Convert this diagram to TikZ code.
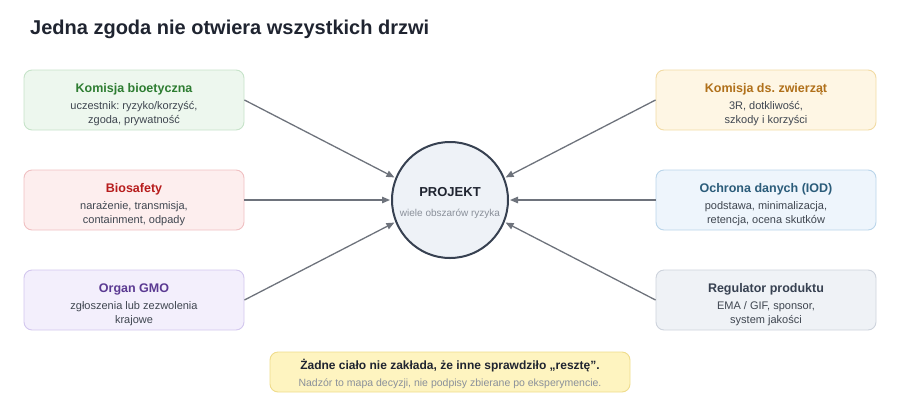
\documentclass[tikz,border=0pt]{standalone}
\usepackage{fontspec}
\setmainfont{Liberation Sans}
\frenchspacing
\usetikzlibrary{arrows.meta,shapes}
\definecolor{grnF}{HTML}{EDF7EE}
\definecolor{grnL}{HTML}{C6E3C9}
\definecolor{grnT}{HTML}{2E7D32}
\definecolor{redF}{HTML}{FDEEEE}
\definecolor{redL}{HTML}{F0C0C2}
\definecolor{redT}{HTML}{B71C1C}
\definecolor{vioF}{HTML}{F3EFFC}
\definecolor{vioL}{HTML}{D3C7EE}
\definecolor{vioT}{HTML}{5B3A92}
\definecolor{ambF}{HTML}{FEF6E4}
\definecolor{ambL}{HTML}{F2DBA4}
\definecolor{ambT}{HTML}{B0701A}
\definecolor{bluF}{HTML}{EEF5FC}
\definecolor{bluL}{HTML}{BAD5EA}
\definecolor{bluT}{HTML}{2B5C7A}
\definecolor{gryF}{HTML}{EFF2F6}
\definecolor{gryL}{HTML}{CDD3DC}
\definecolor{gryT}{HTML}{374151}
\definecolor{hubF}{HTML}{EEF2F7}
\definecolor{hubL}{HTML}{374151}
\definecolor{noteF}{HTML}{FEF4C0}
\definecolor{noteL}{HTML}{EFDC8C}
\definecolor{bodytxt}{HTML}{3F4650}
\definecolor{softtxt}{HTML}{8A909A}
\definecolor{darktxt}{HTML}{1F2430}
\definecolor{arrowgray}{HTML}{6E737C}
\tikzset{panel/.style={rectangle, rounded corners=8pt, minimum width=220pt,
  minimum height=60pt, inner sep=0pt, line width=0.9pt, fill=#1F, draw=#1L}}
\tikzstyle{head}=[font=\fontsize{12.5}{15}\selectfont\bfseries, text height=9pt, text depth=2.6pt, inner sep=0pt]
\tikzstyle{desc}=[font=\fontsize{11}{14}\selectfont, text=bodytxt, align=center, inner sep=0pt]
\tikzstyle{hub}=[circle, minimum size=116pt, inner sep=0pt, line width=2pt, fill=hubF, draw=hubL]
\tikzstyle{link}=[draw=arrowgray, line width=1.3pt, -{Triangle[length=8pt,width=6.5pt]}, shorten >=1pt]

\begin{document}
\begin{tikzpicture}[x=1pt,y=-1pt]
    \useasboundingbox (0,0) rectangle (900,400);
    % Heading
    \node[anchor=base west, inner sep=0pt, font=\fontsize{20}{24}\selectfont\bfseries, text=darktxt]
        (heading) at (30,34) {Jedna zgoda nie otwiera wszystkich drzwi};
    % The project in the middle
    \node[hub] (proj) at (450,200) {};
    \node[inner sep=0pt, font=\fontsize{13}{15}\selectfont\bfseries, text=darktxt, text height=9.3pt, text depth=0pt]
        (proj-head) at ([yshift=8.65pt]proj.center) {PROJEKT};
    \node[inner sep=0pt, font=\fontsize{10}{12}\selectfont, text=softtxt, text height=7.3pt, text depth=2.1pt]
        (proj-desc) at ([yshift=-13.4pt]proj.center) {wiele obszarów ryzyka};
    % The six bodies round it
    \foreach \pos/\name/\col/\ttl/\txt in {
        {(134,100)/bioeth/grn/{Komisja bioetyczna}/{uczestnik: ryzyko/korzyść,\\zgoda, prywatność}},
        {(134,200)/biosaf/red/{Biosafety}/{narażenie, transmisja,\\containment, odpady}},
        {(134,300)/gmo/vio/{Organ GMO}/{zgłoszenia lub zezwolenia\\krajowe}},
        {(766,100)/animal/amb/{Komisja ds. zwierząt}/{3R, dotkliwość,\\szkody i korzyści}},
        {(766,200)/iod/blu/{Ochrona danych (IOD)}/{podstawa, minimalizacja,\\retencja, ocena skutków}},
        {(766,300)/product/gry/{Regulator produktu}/{EMA / GIF, sponsor,\\system jakości}}}
    {
        \node[panel=\col] (\name) at \pos {};
        \node[head, text=\col T] (\name-head) at ([yshift=11.2pt]\name.center) {\ttl};
        \node[desc] (\name-desc) at ([yshift=-14pt]\name.center) {\txt};
    }
    % Connect the bodies with the project
    \foreach \source/\ang in {bioeth/158, biosaf/180, gmo/202}
        \path[link] (\source.east) -- (proj.\ang);
    \foreach \source/\ang in {animal/22, iod/0, product/338}
        \path[link] (\source.west) -- (proj.\ang);
    % Note at the bottom
    \node[rectangle, rounded corners=8pt, minimum width=360pt, minimum height=40pt, inner sep=0pt,
        line width=0.9pt, fill=noteF, draw=noteL] (note) at (450,372) {};
    \node[inner sep=0pt, font=\fontsize{12}{14}\selectfont\bfseries, text=darktxt, text height=8.6pt, text depth=2.5pt]
        (note-head) at ([yshift=5.55pt]note.center) {Żadne ciało nie zakłada, że inne sprawdziło „resztę”.};
    \node[inner sep=0pt, font=\fontsize{10.5}{12}\selectfont, text=softtxt, text height=7.5pt, text depth=2.2pt]
        (note-desc) at ([yshift=-11.85pt]note.center) {Nadzór to mapa decyzji, nie podpisy zbierane po eksperymencie.};
\end{tikzpicture}
\end{document}
